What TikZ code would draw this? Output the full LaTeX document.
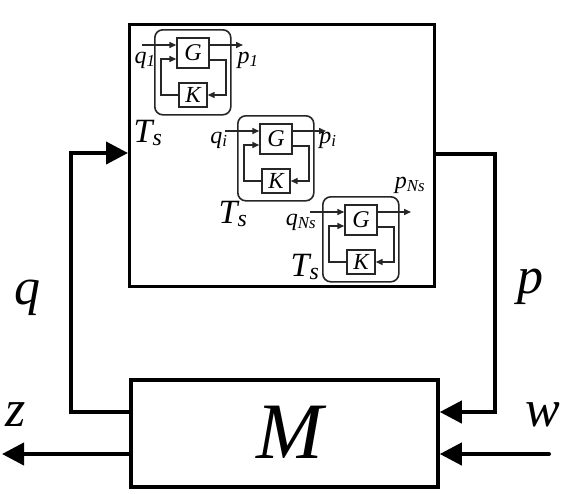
\documentclass[tikz,border=0pt]{standalone}
\usepackage{fontspec}
\setmainfont{Liberation Serif}
\usetikzlibrary{arrows.meta}
\begin{document}
\begin{tikzpicture}[x=1pt,y=-1pt,
  bigbox/.style={draw, line width=3pt, inner sep=0pt, anchor=north west},
  bigarrow/.style={line width=4pt, line join=miter, -{Triangle[length=22pt,width=22pt]}},
  inner/.style={draw=black!85, line width=1.6pt},
  tsbox/.style={inner, rounded corners=8pt, minimum width=76pt, minimum height=85pt, inner sep=0pt, anchor=north west},
  gbox/.style={inner, line width=1.4pt, minimum width=32pt, minimum height=30pt, inner sep=0pt, font=\itshape\fontsize{24}{24}\selectfont},
  kbox/.style={inner, line width=1.4pt, minimum width=28pt, minimum height=24pt, inner sep=0pt, font=\itshape\fontsize{23}{23}\selectfont},
  sarrow/.style={draw=black!85, line width=1.5pt, -{Triangle[length=7pt,width=6pt]}},
  lbl/.style={inner sep=0pt, font=\itshape\fontsize{24}{24}\selectfont},
  tslbl/.style={inner sep=0pt, font=\itshape\fontsize{34}{34}\selectfont},
  biglbl/.style={inner sep=0pt, font=\itshape\fontsize{52}{52}\selectfont}
]
\useasboundingbox (0,0) rectangle (564,493);
\fill[white] (0,0) rectangle (564,493);

% outer system box
\node[bigbox, minimum width=305pt, minimum height=262pt] (S) at (128,23) {};

% M box
\node[draw, line width=3.5pt, minimum width=307pt, minimum height=107pt, inner sep=0pt] (M) at (284.5,433.5) {};
\node[inner sep=0pt, font=\itshape\fontsize{80}{80}\selectfont] (Mtxt) at (290,432) {M};

% T_s blocks
\foreach \i/\dx/\dy in {1/154/29, 2/237/115, 3/322/196}{
  \begin{scope}[shift={(\dx,\dy)}]
    \node[tsbox] (R\i) at (0,0) {};
    \node[gbox] (G\i) at (39,24) {G};
    \node[kbox] (K\i) at (39,66) {K};
    \coordinate (in\i) at (-12,16);
    \coordinate (out\i) at (89,16);
    \coordinate (fr\i) at (72,31);
    \coordinate (fd\i) at (72,66);
    \coordinate (fl\i) at (7,66);
    \coordinate (fu\i) at (7,30);
    \draw[sarrow] (in\i) -- (G\i.west |- in\i);
    \draw[sarrow] (G\i.east |- out\i) -- (out\i);
    \draw[sarrow] (G\i.east |- fr\i) -- (fr\i) -- (fd\i) -- (K\i.east);
    \draw[sarrow] (K\i.west) -- (fl\i) -- (fu\i) -- (G\i.west |- fu\i);
  \end{scope}
}

% block labels
\node[lbl] (q1) at (145,60) {q\textsubscript{1}};
\node[lbl] (p1) at (248,60) {p\textsubscript{1}};
\node[tslbl] (ts1) at (148,133) {T\textsubscript{s}};
\node[lbl] (qi) at (219,140) {q\textsubscript{i}};
\node[lbl] (pi) at (328,140) {p\textsubscript{i}};
\node[tslbl] (ts2) at (233,214) {T\textsubscript{s}};
\node[lbl] (qns) at (301,222) {q\textsubscript{Ns}};
\node[lbl] (pns) at (410,185) {p\textsubscript{Ns}};
\node[tslbl] (ts3) at (305,267) {T\textsubscript{s}};

% main connectors
\coordinate (qa) at (71,412);
\coordinate (qb) at (71,153);
\coordinate (pa) at (495,154);
\coordinate (pb) at (495,412);
\coordinate (zc) at (2,454);
\coordinate (wc) at (549,454);

\draw[bigarrow] (M.west |- qa) -- (qa) -- (qb) -- (S.west |- qb);
\draw[bigarrow] (S.east |- pa) -- (pa) -- (pb) -- (M.east |- pb);
\draw[bigarrow] (M.west |- zc) -- (zc);
\draw[bigarrow, line cap=round] (wc) -- (M.east |- wc);

% main labels
\node[biglbl] (ql) at (27,298) {q};
\node[biglbl] (pl) at (530,287) {p};
\node[biglbl] (zl) at (16,415) {z};
\node[biglbl] (wl) at (543,415) {w};
\end{tikzpicture}
\end{document}
